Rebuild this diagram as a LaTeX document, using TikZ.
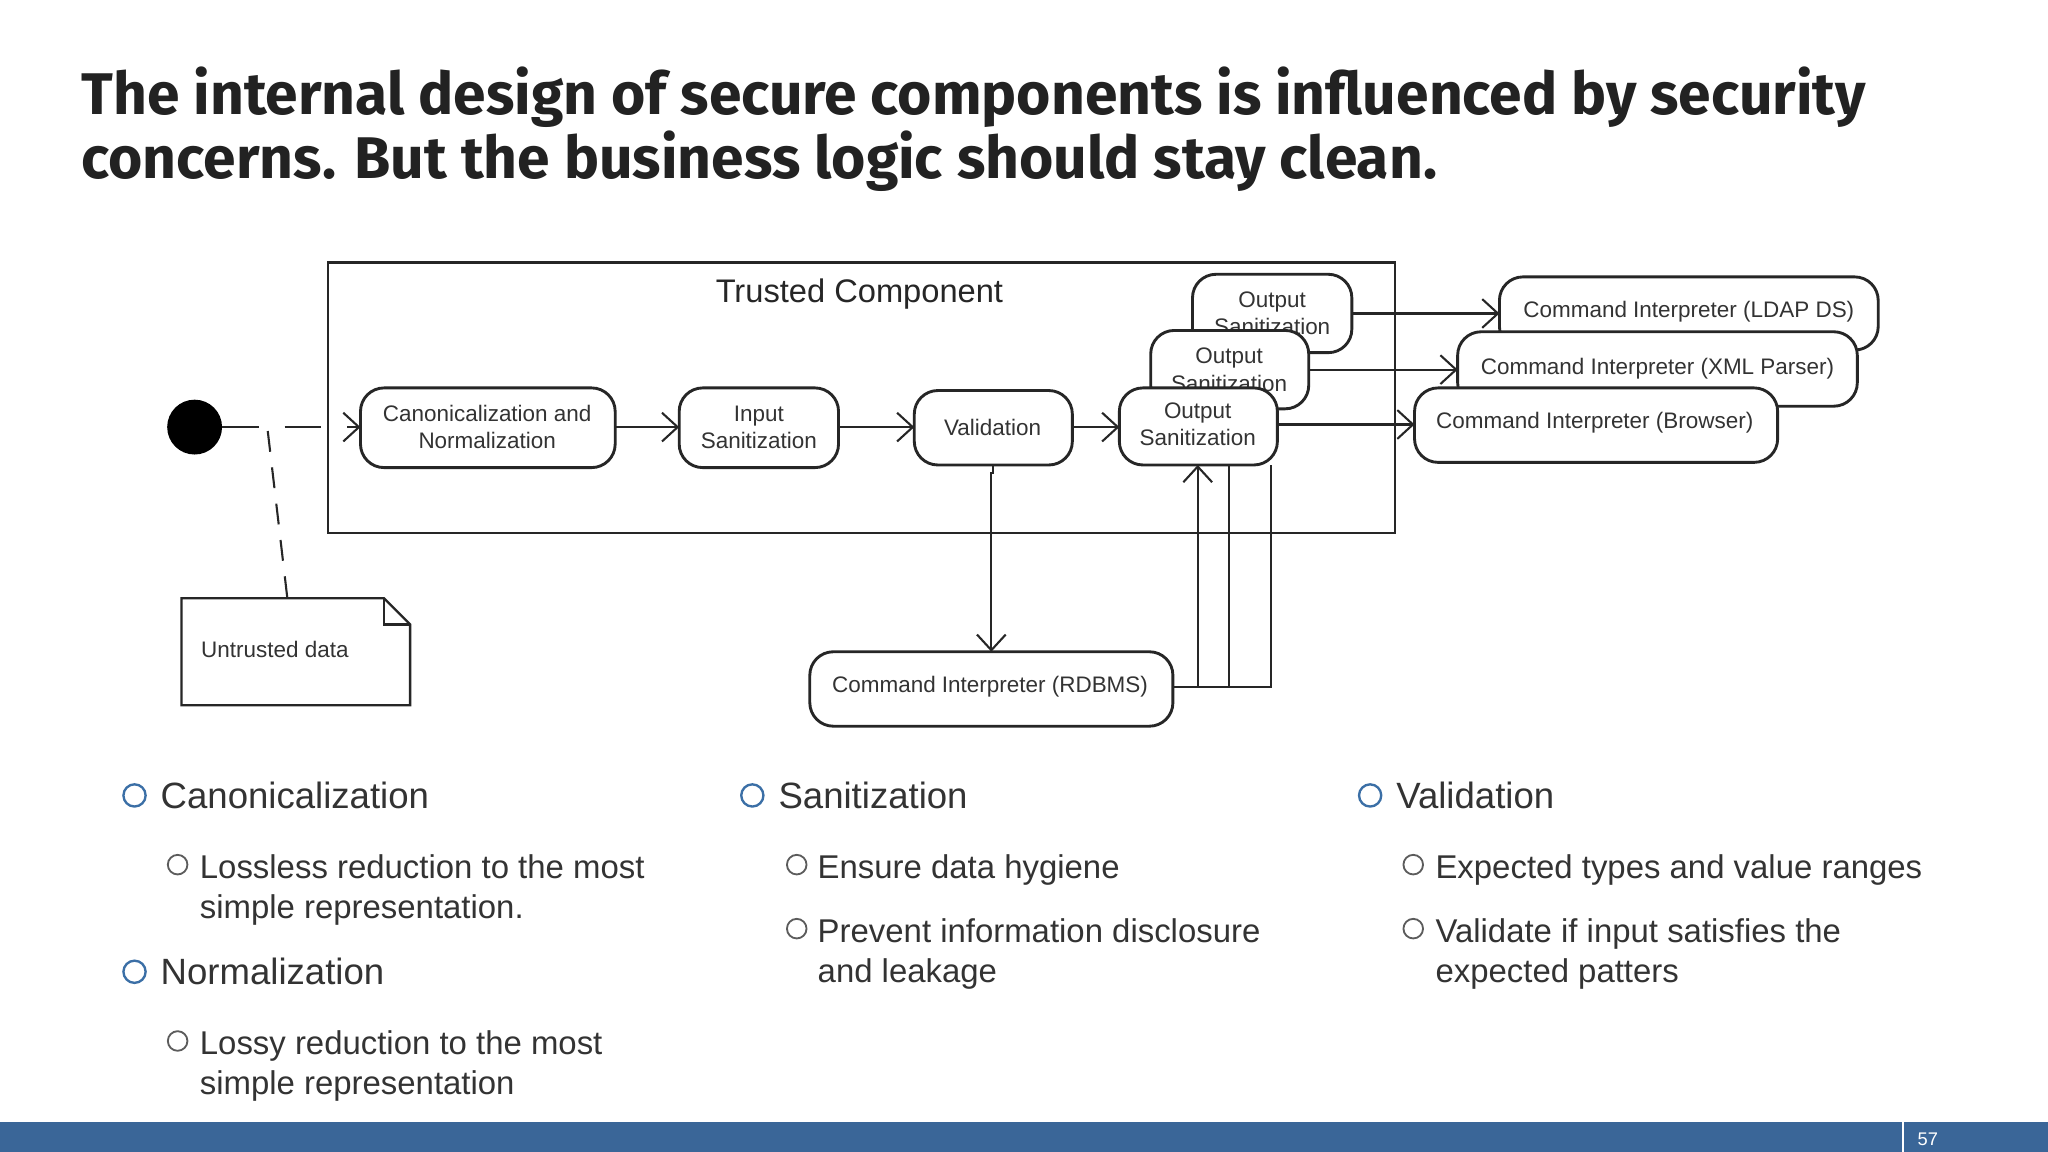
\documentclass[tikz,border=0pt]{standalone}
\usepackage{fontspec}
\setmainfont{Liberation Sans}
\newfontfamily\ttlfont{Fira Sans}
\newfontfamily\diagfont{Liberation Sans}
\usetikzlibrary{arrows.meta}
\definecolor{ink}{HTML}{222222}
\definecolor{txt}{HTML}{333333}
\definecolor{bar}{HTML}{3A6698}
\definecolor{bul}{HTML}{3B6FA6}
\tikzset{
 act/.style={draw=black!85,line width=1.1pt,rounded corners=9pt,fill=white,align=center,font=\diagfont\fontsize{8.6}{9.8}\selectfont,text=black!80,inner sep=0pt},
 flow/.style={draw=black!85,line width=0.8pt,-{Straight Barb[length=6pt,width=11pt]}},
 plain/.style={draw=black!85,line width=0.8pt},
 bh/.style={anchor=west,font=\fontsize{14}{16}\selectfont,text=txt},
 sb/.style={anchor=west,font=\fontsize{12.6}{15.5}\selectfont,text=txt,align=left},
 bc/.style={draw=bul,line width=0.9pt,circle,inner sep=0pt,minimum size=8.5pt},
 sc/.style={draw=txt!80,line width=0.7pt,circle,inner sep=0pt,minimum size=7.5pt},
}
\begin{document}
\begin{tikzpicture}[x=0.5pt,y=-0.5pt]
\useasboundingbox[fill=white] (0,0) rectangle (1568,882);
% title
\node[anchor=base west,inner sep=0,font=\ttlfont\bfseries\fontsize{22.5}{25}\selectfont,text=ink] (t1) at (62,88) {The internal design of secure components is influenced by security};
\node[anchor=base west,inner sep=0,font=\ttlfont\bfseries\fontsize{22.5}{25}\selectfont,text=ink] (t2) at (62,137) {concerns. But the business logic should stay clean.};
% trusted component
\draw[black!85,line width=1pt] (251,201) rectangle (1068,408);
\node[font=\diagfont\fontsize{12.5}{14}\selectfont,text=black!85] (tc) at (658,225) {Trusted Component};
% start
\fill[black] (149,327) circle (21);
\coordinate (st) at (170,327);
% note
\draw[black!85,line width=0.9pt,fill=white] (139,458) -- (294,458) -- (314,478) -- (314,540) -- (139,540) -- cycle;
\draw[black!85,line width=0.9pt] (294,458) -- (294,478) -- (314,478);
\node[anchor=west,font=\diagfont\fontsize{8.6}{10}\selectfont,text=black!80] (ud) at (147,497) {Untrusted data};
\coordinate (nt) at (220,458);
\coordinate (nd) at (205,330);
% activities
\path[act] (276,297) rectangle (471,358);
\node[align=center,font=\diagfont\fontsize{8.6}{10.5}\selectfont,text=black!80] (can) at (373,327) {Canonicalization and\\Normalization};
\path[act] (520,297) rectangle (642,358);
\node[align=center,font=\diagfont\fontsize{8.6}{10.5}\selectfont,text=black!80] (inp) at (581,327) {Input\\Sanitization};
\path[act] (700,299) rectangle (821,356);
\node[font=\diagfont\fontsize{8.6}{10.5}\selectfont,text=black!80] (val) at (760,327) {Validation};
\path[act] (913,210) rectangle (1035,270);
\node[align=center,font=\diagfont\fontsize{8.6}{10.5}\selectfont,text=black!80] (o3) at (974,240) {Output\\Sanitization};
\path[act] (881,253) rectangle (1002,313);
\node[align=center,font=\diagfont\fontsize{8.6}{10.5}\selectfont,text=black!80] (o2) at (941,283) {Output\\Sanitization};
\path[act] (857,297) rectangle (978,356);
\node[align=center,font=\diagfont\fontsize{8.6}{10.5}\selectfont,text=black!80] (o1) at (917,325) {Output\\Sanitization};
% interpreters
\path[act] (1148,212) rectangle (1438,268);
\node[font=\diagfont\fontsize{8.6}{10.5}\selectfont,text=black!80] (ldap) at (1293,239) {Command Interpreter (LDAP DS)};
\path[act] (1116,254) rectangle (1422,311);
\node[font=\diagfont\fontsize{8.6}{10.5}\selectfont,text=black!80] (xml) at (1269,282) {Command Interpreter (XML Parser)};
\path[act] (1083,297) rectangle (1361,354);
\node[font=\diagfont\fontsize{8.6}{10.5}\selectfont,text=black!80] (brw) at (1221,324) {Command Interpreter (Browser)};
\path[act] (620,499) rectangle (898,556);
\node[font=\diagfont\fontsize{8.6}{10.5}\selectfont,text=black!80] (rdb) at (758,526) {Command Interpreter (RDBMS)};
% connectors
\draw[flow,dash pattern=on 14pt off 10pt] (st) -- (276,327);
\draw[plain,dashed,dash pattern=on 8pt off 6pt] (nd) -- (nt);
\draw[flow] (471,327) -- (520,327);
\draw[flow] (642,327) -- (700,327);
\draw[flow] (821,327) -- (857,327);
\draw[flow] (760,356) -- (760,362) -- (759,362) -- (759,499);
\draw[flow] (1035,240) -- (1148,240);
\draw[flow] (1002,283) -- (1116,283);
\draw[flow] (978,325) -- (1083,325);
\draw[flow] (898,526) -- (917,526) -- (917,356);
\draw[plain] (917,526) -- (973,526) -- (973,356);
\draw[plain] (941,526) -- (941,356);
% bullets
\node[bc] (c1) at (103,609) {}; \node[bh] (h1) at (116,609) {Canonicalization};
\node[sc] (c1a) at (136,662) {}; \node[sb,anchor=north west] (s1a) at (146,647) {Lossless reduction to the most\\simple representation.};
\node[bc] (c2) at (103,744) {}; \node[bh] (h2) at (116,744) {Normalization};
\node[sc] (c2a) at (136,797) {}; \node[sb,anchor=north west] (s2a) at (146,782) {Lossy reduction to the most\\simple representation};
\node[bc] (c3) at (576,609) {}; \node[bh] (h3) at (589,609) {Sanitization};
\node[sc] (c3a) at (610,662) {}; \node[sb,anchor=north west] (s3a) at (619,647) {Ensure data hygiene};
\node[sc] (c3b) at (610,711) {}; \node[sb,anchor=north west] (s3b) at (619,696) {Prevent information disclosure\\and leakage};
\node[bc] (c4) at (1049,609) {}; \node[bh] (h4) at (1062,609) {Validation};
\node[sc] (c4a) at (1082,662) {}; \node[sb,anchor=north west] (s4a) at (1092,647) {Expected types and value ranges};
\node[sc] (c4b) at (1082,711) {}; \node[sb,anchor=north west] (s4b) at (1092,696) {Validate if input satisfies the\\expected patters};
% footer
\fill[bar] (0,859) rectangle (1568,882);
\draw[white,line width=0.8pt] (1457,859) -- (1457,882);
\node[text=white,font=\fontsize{7}{8}\selectfont] (pg) at (1476,872) {57};
\end{tikzpicture}
\end{document}
